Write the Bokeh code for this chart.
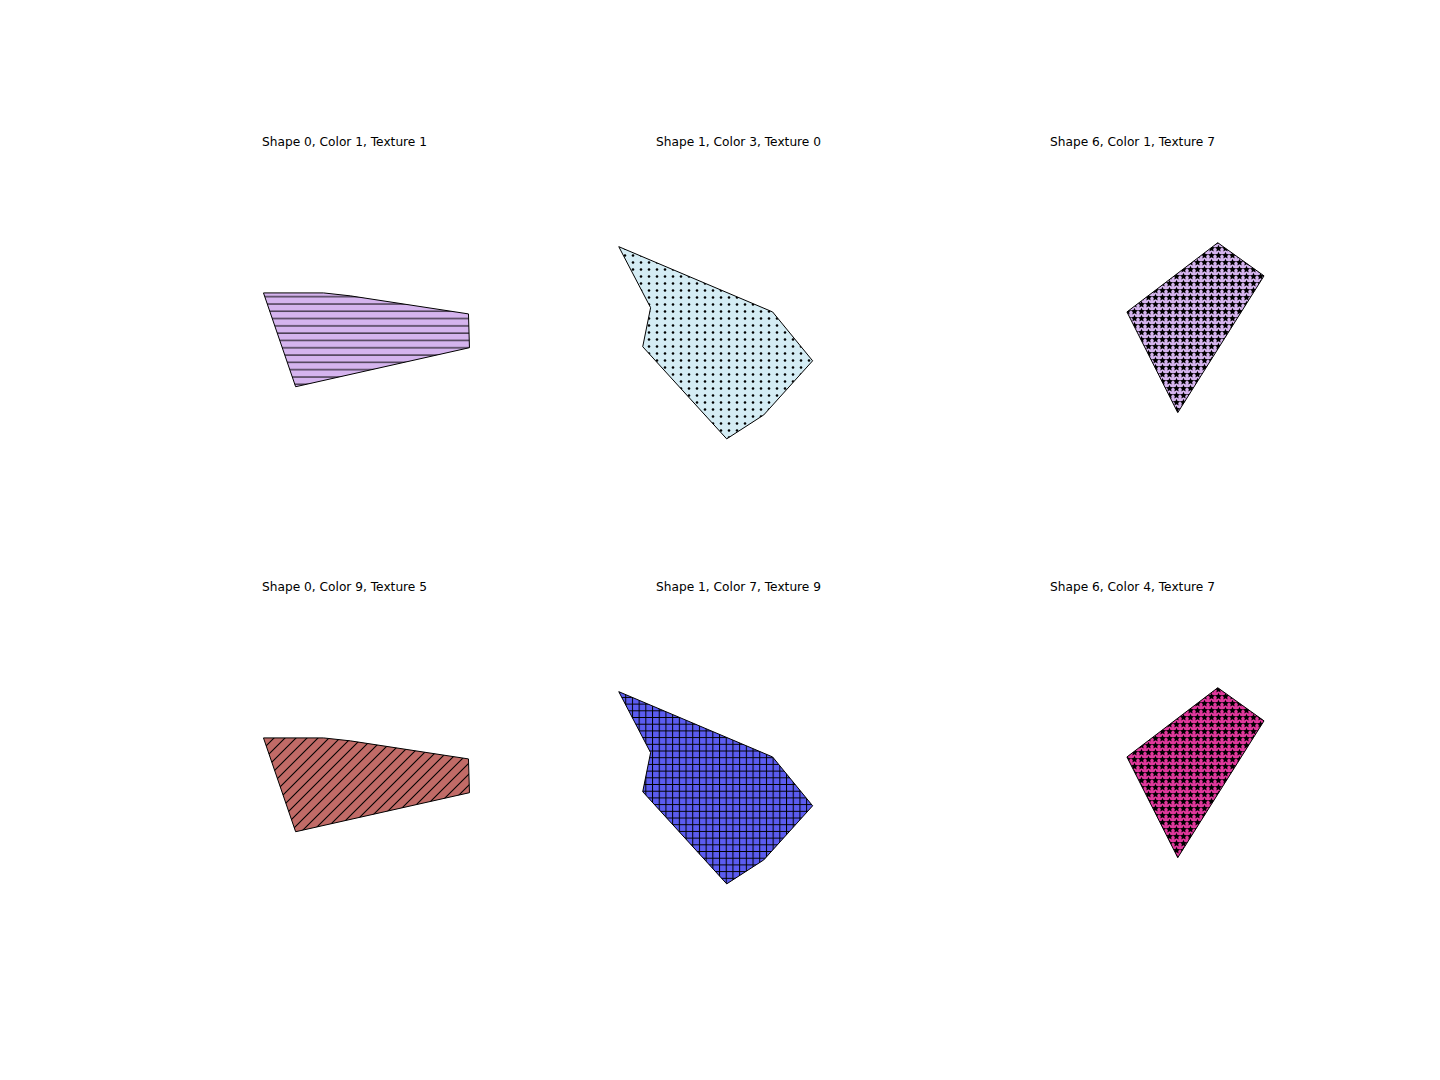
import base64
import math

from bokeh.embed import file_html
from bokeh.layouts import column, row
from bokeh.models import ImageURLTexture
from bokeh.plotting import figure
from bokeh.resources import INLINE

# polygon vertices of the three shapes (data units, 0..10 box)
shape0_x = [2.53, 4.36, 5.18, 8.78, 8.81, 3.51]
shape0_y = [5.78, 5.78, 5.69, 5.14, 4.11, 2.92]
shape1_x = [1.35, 6.04, 7.26, 5.77, 4.64, 2.08, 2.32]
shape1_y = [7.19, 5.20, 3.71, 2.06, 1.33, 4.14, 5.33]
shape6_x = [7.60, 9.01, 6.38, 4.83]
shape6_y = [7.31, 6.30, 2.13, 5.20]

shapes_x = {0: shape0_x, 1: shape1_x, 6: shape6_x}
shapes_y = {0: shape0_y, 1: shape1_y, 6: shape6_y}

# panels, row by row
panel_shapes = [0, 1, 6, 0, 1, 6]
panel_colors = [1, 3, 1, 9, 7, 4]
panel_textures = [1, 0, 7, 5, 9, 7]

palette = {1: "#d5b4ee", 3: "#d4ecf4", 9: "#c16b67", 7: "#5b5cf0", 4: "#e0379b"}


def svg_url(w, h, body):
    svg = ("<svg xmlns='http://www.w3.org/2000/svg' width='%d' height='%d'>%s</svg>"
           % (w, h, body))
    return "data:image/svg+xml;base64," + base64.b64encode(svg.encode()).decode()


def star_tile(size=7, r_out=3.7, r_in=1.7):
    c = size / 2.0
    pts = []
    for i in range(10):
        r = r_out if i % 2 == 0 else r_in
        a = -math.pi / 2 + i * math.pi / 5
        pts.append("%.2f,%.2f" % (c + r * math.cos(a), c + r * math.sin(a)))
    return svg_url(size, size, "<polygon points='%s' fill='black'/>" % " ".join(pts))


def dot_tile(w=8, h=7, r=1.3):
    return svg_url(w, h, "<circle cx='%.1f' cy='%.1f' r='%.1f' fill='black'/>" % (w / 2, h / 2, r))


def diag_tile(s=11):
    body = ("<g stroke='black' stroke-width='1.1'>"
            "<line x1='-1' y1='%d' x2='%d' y2='-1'/>"
            "<line x1='-1' y1='1' x2='1' y2='-1'/>"
            "<line x1='%d' y1='%d' x2='%d' y2='%d'/></g>"
            % (s + 1, s + 1, s - 1, s + 1, s + 1, s - 1))
    return svg_url(s, s, body)


# texture id -> bokeh hatch settings
hatches = {
    0: dict(hatch_pattern="dots", hatch_extra={"dots": ImageURLTexture(url=dot_tile())}),
    1: dict(hatch_pattern="-", hatch_scale=7.3),
    5: dict(hatch_pattern="diag", hatch_extra={"diag": ImageURLTexture(url=diag_tile())}),
    9: dict(hatch_pattern="+", hatch_scale=6.7),
    7: dict(hatch_pattern="star", hatch_extra={"star": ImageURLTexture(url=star_tile())}),
}

figs = []
for i in range(6):
    r, c = divmod(i, 3)
    s = panel_shapes[i]
    p = figure(
        frame_width=328, frame_height=328,
        x_range=(0, 10), y_range=(0, 10),
        x_axis_location=None, y_axis_location=None,
        output_backend="svg", toolbar_location=None,
        title="Shape %d, Color %d, Texture %d" % (s, panel_colors[i], panel_textures[i]),
        min_border_left=180 if c == 0 else 33, min_border_right=33,
        min_border_top=154 if r == 0 else 60, min_border_bottom=57 if r == 0 else 40,
    )
    p.title.align = "center"
    p.title.text_font = "DejaVu Sans"
    p.title.text_font_size = "12.2px"
    p.title.text_font_style = "normal"
    p.title.text_color = "black"
    p.title.standoff = 12
    p.outline_line_color = None
    p.grid.visible = False
    p.patch(shapes_x[s], shapes_y[s], fill_color=palette[panel_colors[i]],
            line_color="black", line_width=1, hatch_color="black", hatch_weight=1,
            **hatches[panel_textures[i]])
    figs.append(p)

layout = column(row(*figs[:3], spacing=0), row(*figs[3:], spacing=0), spacing=0)

open("out.html", "w").write(file_html(layout, INLINE))
